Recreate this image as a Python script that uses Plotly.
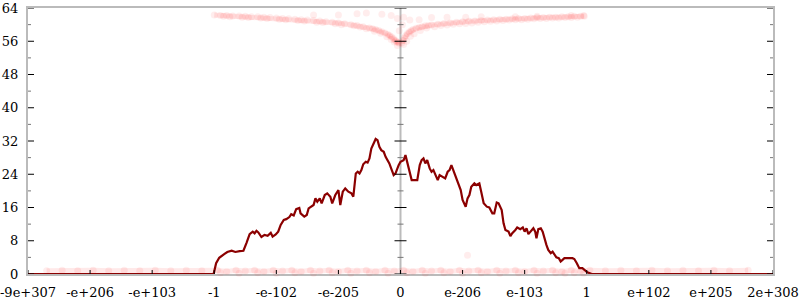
import plotly.graph_objects as go

# ---- axis ticks ----
x_tickvals = [-6, -5, -4, -3, -2, -1, 0, 1, 2, 3, 4, 5, 6]
x_ticktext = ["-9e+307", "-e+206", "-e+103", "-1", "-e-102", "-e-205", "0",
              "e-206", "e-103", "1", "e+102", "e+205", "2e+308"]
y_major = [0, 8, 16, 24, 32, 40, 48, 56, 64]
y_minor = [4, 12, 20, 28, 36, 44, 52, 60]
vertical_axes = [-6, 0, 6]

# ---- histogram line ----
hist_x = [-6.0, -3.01, -2.97, -2.95, -2.92, -2.84, -2.79, -2.72, -2.66, -2.59, -2.53, -2.48,
          -2.43, -2.38, -2.35, -2.32, -2.29, -2.24, -2.19, -2.14, -2.09, -2.06, -2.01, -1.97,
          -1.93, -1.88, -1.84, -1.79, -1.76, -1.72, -1.68, -1.63, -1.61, -1.55, -1.51, -1.48,
          -1.43, -1.40, -1.37, -1.34, -1.30, -1.27, -1.22, -1.18, -1.13, -1.10, -1.05, -1.00,
          -0.97, -0.93, -0.89, -0.84, -0.79, -0.76, -0.72, -0.69, -0.66, -0.63, -0.60, -0.56,
          -0.53, -0.50, -0.47, -0.43, -0.40, -0.37, -0.34, -0.31, -0.27, -0.24, -0.21, -0.18,
          -0.14, -0.11, -0.08, -0.05, -0.03, 0.00, 0.05, 0.08, 0.11, 0.14, 0.18, 0.27,
          0.31, 0.34, 0.37, 0.40, 0.43, 0.47, 0.50, 0.53, 0.56, 0.60, 0.63, 0.68,
          0.72, 0.76, 0.79, 0.82, 0.85, 0.89, 0.92, 0.97, 1.00, 1.05, 1.08, 1.11,
          1.14, 1.19, 1.22, 1.27, 1.30, 1.34, 1.39, 1.43, 1.48, 1.51, 1.55, 1.58,
          1.63, 1.66, 1.69, 1.74, 1.77, 1.80, 1.85, 1.88, 1.93, 1.97, 2.00, 2.03,
          2.06, 2.09, 2.14, 2.17, 2.19, 2.22, 2.26, 2.29, 2.32, 2.35, 2.38, 2.42,
          2.45, 2.48, 2.51, 2.55, 2.58, 2.61, 2.64, 2.77, 2.80, 2.84, 2.88, 2.93,
          2.96, 3.01, 3.08, 6.0]
hist_y = [0, 0, 2.6, 3.3, 3.9, 4.8, 5.3, 5.6, 5.3, 5.5, 5.6, 7.5,
          9.6, 10.2, 9.8, 10.4, 10.0, 8.9, 9.4, 9.2, 9.9, 9.0, 9.5, 10.2,
          11.8, 13.0, 13.2, 13.7, 14.4, 14.1, 15.6, 15.9, 14.6, 13.8, 14.2, 15.8,
          16.2, 16.6, 18.2, 17.4, 18.2, 17.0, 19.0, 19.4, 18.6, 17.0, 19.0, 20.2,
          16.6, 19.8, 20.6, 19.8, 19.4, 18.6, 24.2, 24.6, 24.2, 25.0, 26.4, 27.0,
          26.8, 27.8, 30.2, 31.8, 32.5, 32.2, 30.6, 29.8, 29.4, 28.2, 27.4, 26.6,
          25.0, 23.8, 24.2, 25.8, 26.2, 27.0, 27.4, 28.6, 26.6, 25.4, 22.6, 22.6,
          26.2, 27.4, 27.8, 26.6, 27.4, 25.4, 24.6, 25.0, 23.8, 22.6, 23.8, 23.4,
          23.0, 24.6, 25.0, 26.2, 25.0, 23.4, 22.2, 20.2, 17.8, 16.2, 18.2, 19.0,
          21.0, 21.8, 21.4, 21.8, 19.8, 17.0, 16.2, 16.0, 14.6, 14.6, 17.2, 17.0,
          15.4, 12.2, 10.6, 10.2, 9.1, 9.8, 10.6, 11.2, 10.8, 11.2, 10.2, 11.0,
          9.6, 10.2, 11.0, 10.2, 8.6, 10.8, 11.0, 10.2, 8.2, 7.0, 5.8, 5.0,
          5.4, 4.6, 4.0, 3.8, 3.0, 3.4, 3.8, 3.8, 3.6, 2.6, 1.4, 1.4,
          1.0, 0.4, 0.0, 0.0]

# ---- faint scatter: upper curve (left and right branches) ----
left_x = [-3.0, -2.9, -2.8, -2.7, -2.6, -2.5, -2.4, -2.3, -2.2, -2.1, -2.0, -1.9, -1.8, -1.7,
          -1.6, -1.5, -1.4, -1.3, -1.2, -1.1, -1.0, -0.9, -0.8, -0.7, -0.6, -0.5, -0.45, -0.4,
          -0.35, -0.3, -0.25, -0.2, -0.17, -0.14, -0.11, -0.08, -0.06, -0.04, -0.02]
left_y = [62.3, 62.2, 62.2, 62.1, 62.1, 62.0, 61.9, 61.9, 61.8, 61.7, 61.6, 61.5, 61.4, 61.3,
          61.2, 61.1, 61.0, 60.9, 60.7, 60.6, 60.4, 60.2, 60.0, 59.8, 59.5, 59.2, 59.0, 58.8,
          58.6, 58.3, 58.0, 57.6, 57.3, 57.0, 56.6, 56.2, 55.9, 55.7, 55.5]
right_x = [0.02, 0.04, 0.06, 0.08, 0.11, 0.14, 0.17, 0.2, 0.25, 0.3, 0.35, 0.4, 0.45, 0.5,
           0.6, 0.7, 0.8, 0.9, 1.0, 1.1, 1.2, 1.3, 1.4, 1.5, 1.6, 1.7, 1.8, 1.9, 2.0, 2.1,
           2.2, 2.3, 2.4, 2.5, 2.6, 2.7, 2.8, 2.9, 2.96]
right_y = [55.6, 56.2, 56.8, 57.3, 57.8, 58.2, 58.5, 58.8, 59.1, 59.3, 59.5, 59.7, 59.8, 59.9,
           60.1, 60.3, 60.4, 60.6, 60.7, 60.8, 60.9, 61.0, 61.1, 61.2, 61.3, 61.3, 61.4, 61.5,
           61.5, 61.6, 61.7, 61.7, 61.8, 61.8, 61.9, 61.9, 62.0, 62.0, 62.0]
curve2_x = [-2.85, -2.75, -2.55, -2.45, -2.25, -2.15, -1.95, -1.85, -1.65, -1.55, -1.35,
            -1.25, -1.05, -0.95, -0.75, -0.65, -0.55, -0.42, -0.32, -0.22, -0.15, -0.1,
            -0.05, 0.05, 0.1, 0.16, 0.22, 0.32, 0.42, 0.55, 0.65, 0.75, 0.85, 0.95, 1.05,
            1.15, 1.25, 1.35, 1.45, 1.55, 1.65, 1.75, 1.85, 1.95, 2.05, 2.15, 2.25, 2.35,
            2.45, 2.55, 2.65, 2.75, 2.85]
curve2_y = [62.0, 61.9, 61.8, 61.7, 61.6, 61.5, 61.3, 61.2, 61.0, 60.9, 60.6,
            60.5, 60.2, 60.0, 59.7, 59.4, 59.0, 58.4, 57.9, 57.1, 56.4, 55.8,
            55.0, 55.2, 56.0, 57.2, 57.8, 58.6, 59.2, 59.5, 59.8, 59.9, 60.1, 60.2, 60.3,
            60.4, 60.6, 60.7, 60.8, 60.9, 61.0, 61.1, 61.2, 61.2, 61.3, 61.4, 61.5, 61.5,
            61.6, 61.6, 61.7, 61.7, 61.8]
outlier_x = [-1.4, -1.0, -0.7, -0.55, -0.3, -0.15, -0.05, -0.02, 0.03, 0.05, 0.15, 0.3,
             0.5, 0.75, 1.05, 1.3, 1.85, 2.2, 2.75, 2.95, 1.08]
outlier_y = [62.3, 62.3, 62.6, 62.8, 62.5, 62.2, 61.5, 58.5, 60.0, 61.8, 61.1, 61.2,
             61.7, 61.8, 61.8, 61.9, 61.9, 62.0, 62.2, 62.2, 4.5]

# ---- faint scatter: bottom band ----
bottom_x = [-5.7, -5.45, -5.2, -4.95, -4.7, -4.45, -4.2, -3.95, -3.7, -3.45, -3.2,
            -2.95, -2.8, -2.65, -2.5, -2.35, -2.2, -2.05, -1.9, -1.75, -1.6, -1.45, -1.3,
            -1.15, -1.0, -0.85, -0.7, -0.55, -0.4, -0.25, -0.1, 0.05, 0.2, 0.35, 0.5,
            0.65, 0.8, 0.95, 1.1, 1.25, 1.4, 1.55, 1.7, 1.85, 2.0, 2.15, 2.3, 2.45, 2.6,
            2.75, 2.9, 3.05, 3.3, 3.55, 3.8, 4.05, 4.3, 4.55, 4.8, 5.05, 5.3, 5.6]
bottom_y = [0.8, 0.9, 0.8, 0.9, 0.8, 0.9, 0.8, 0.9, 0.8, 0.9, 0.8,
            0.9, 0.6, 0.9, 0.7, 0.9, 0.6, 0.9, 0.7, 0.9, 0.6, 0.9, 0.7,
            0.9, 0.6, 0.9, 0.7, 0.9, 0.6, 0.9, 0.7, 0.9, 0.6, 0.9, 0.7,
            0.9, 0.6, 0.9, 0.7, 0.9, 0.6, 0.9, 0.7, 0.9, 0.6, 0.9, 0.7, 0.9, 0.6,
            0.9, 0.7, 0.9, 0.8, 0.9, 0.8, 0.9, 0.8, 0.9, 0.8, 0.9, 0.8, 0.9]
bottom2_x = [-2.9, -2.6, -2.3, -2.0, -1.7, -1.4, -1.1, -0.8, -0.5, -0.2, 0.1, 0.4, 0.7,
             1.0, 1.3, 1.6, 1.9, 2.2, 2.5, 2.65, 2.8, 2.95]
bottom2_y = [0.3, 0.2, 0.3, 0.2, 0.3, 0.2, 0.3, 0.2, 0.3, 0.2, 0.3, 0.2, 0.3,
             0.2, 0.3, 0.2, 0.3, 0.2, 0.3, 0.2, 0.3, 0.2]

AXIS_GREY = "#bbbbbb"
FONT = dict(family="DejaVu Serif", size=13, color="black")

fig = go.Figure()

# soft bands (density of the faint points)
band_line = dict(color="rgba(255,40,40,0.10)", width=5)
fig.add_trace(go.Scatter(x=bottom_x, y=bottom_y, mode="lines", line=band_line,
                         hoverinfo="skip"))
fig.add_trace(go.Scatter(x=left_x, y=left_y, mode="lines", line=band_line, hoverinfo="skip"))
fig.add_trace(go.Scatter(x=right_x, y=right_y, mode="lines", line=band_line, hoverinfo="skip"))

marker = dict(color="red", size=7, opacity=0.07, line=dict(width=0))
fig.add_trace(go.Scatter(x=bottom_x + bottom2_x, y=bottom_y + bottom2_y, mode="markers",
                         marker=marker, hoverinfo="skip", cliponaxis=False))
fig.add_trace(go.Scatter(x=left_x + right_x + curve2_x + outlier_x,
                         y=left_y + right_y + curve2_y + outlier_y,
                         mode="markers", marker=marker, hoverinfo="skip"))
fig.add_trace(go.Scatter(x=hist_x, y=hist_y, mode="lines",
                         line=dict(color="#8b0000", width=2.2), hoverinfo="skip"))

shapes = []
# center vertical axis line
shapes.append(dict(type="line", xref="x", yref="y", x0=0, x1=0, y0=0, y1=64,
                   line=dict(color=AXIS_GREY, width=2), layer="below"))
for xa in vertical_axes:
    for yv in y_major:
        shapes.append(dict(type="line", xref="x", yref="y", xsizemode="pixel", xanchor=xa,
                           x0=-6, x1=6, y0=yv, y1=yv, line=dict(color="black", width=1)))
    for yv in y_minor:
        shapes.append(dict(type="line", xref="x", yref="y", xsizemode="pixel", xanchor=xa,
                           x0=-3, x1=3, y0=yv, y1=yv, line=dict(color="#777777", width=1)))
for xv in x_tickvals:
    shapes.append(dict(type="line", xref="x", yref="y", ysizemode="pixel", yanchor=0,
                       x0=xv, x1=xv, y0=-7, y1=4, line=dict(color="black", width=1)))

fig.update_layout(
    width=800, height=300,
    margin=dict(l=28, r=27, t=8, b=26, autoexpand=False),
    plot_bgcolor="white", paper_bgcolor="white",
    showlegend=False,
    shapes=shapes,
    font=FONT,
    xaxis=dict(range=[-6, 6], tickvals=x_tickvals, ticktext=x_ticktext, automargin=False,
               ticklabeloverflow="allow",
               showgrid=False, zeroline=False, showline=True, linecolor=AXIS_GREY,
               linewidth=2, mirror=True, ticks="outside", ticklen=5,
               tickcolor="rgba(0,0,0,0)", tickfont=FONT, layer="below traces"),
    yaxis=dict(range=[0, 64], tickvals=y_major, showgrid=False, zeroline=False,
               automargin=False, ticklabeloverflow="allow",
               showline=True, linecolor=AXIS_GREY, linewidth=2, mirror=True,
               ticks="outside", ticklen=5, tickcolor="rgba(0,0,0,0)", tickfont=FONT,
               layer="below traces"),
)

fig.write_html("out.html")
